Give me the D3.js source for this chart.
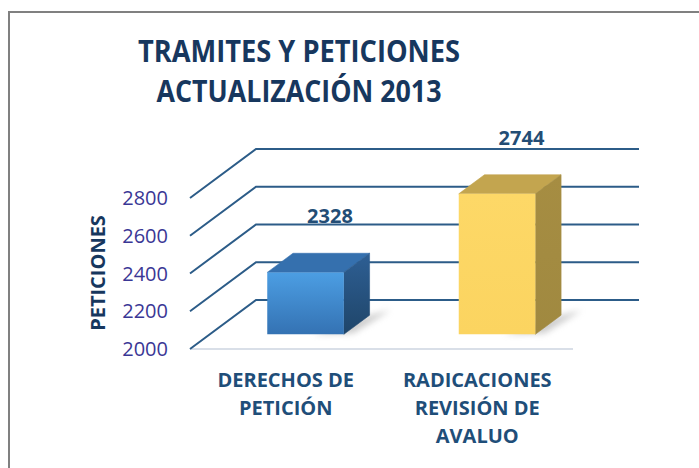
<!DOCTYPE html>
<html>
<head>
<meta charset="utf-8">
<script src="https://cdn.jsdelivr.net/npm/d3@7"></script>
<style>
  body { margin: 0; background: #fff; }
  text { font-family: "Open Sans", sans-serif; }
</style>
</head>
<body>
<div id="chart"></div>
<script>
/* 3D column chart: tramites y peticiones 2013 */

const categories = [["DERECHOS DE", "PETICIÓN"], ["RADICACIONES", "REVISIÓN DE", "AVALUO"]];
const values = [2328, 2744];
const ticks = [2000, 2200, 2400, 2600, 2800];

const width = 699, height = 468;
const depthX = 66, depthY = 49; /* how far the back wall sits from the front plane */

const svg = d3.select("#chart")
    .append("svg")
    .attr("width", width)
    .attr("height", height);

const x = d3.scaleBand()
    .domain(d3.range(values.length))
    .range([190, 573]);

const y = d3.scaleLinear()
    .domain([2000, 2800])
    .range([349, 198]);

/* point in the 3d box: front-plane x, value, depth 0..1 */
const P = (xf, v, d) => [xf + d * depthX, y(v) - d * depthY];

// frame
svg.append("path")
    .attr("d", `M9,${height + 5} V12 H${width + 5}`)
    .attr("fill", "none")
    .attr("stroke", "#808080")
    .attr("stroke-width", 2);

// title
const title = ["TRAMITES Y PETICIONES", "ACTUALIZACIÓN 2013"];
const titleW = [322, 285];
svg.selectAll(".title")
    .data(title)
    .join("text")
    .attr("x", 299)
    .attr("y", (d, i) => 62 + i * 40)
    .attr("text-anchor", "middle")
    .attr("textLength", (d, i) => titleW[i])
    .attr("lengthAdjust", "spacingAndGlyphs")
    .style("font-size", "30px")
    .style("font-weight", "bold")
    .style("fill", "#17375E")
    .text(d => d);

const defs = svg.append("defs");
defs.append("filter").attr("id", "blur")
    .attr("x", "-50%").attr("y", "-50%").attr("width", "200%").attr("height", "200%")
    .append("feGaussianBlur").attr("stdDeviation", 3);

const grad = (id, c1, c2) => {
    const g = defs.append("linearGradient").attr("id", id)
        .attr("x1", 0).attr("y1", 0).attr("x2", 0).attr("y2", 1);
    g.append("stop").attr("offset", 0).attr("stop-color", c1);
    g.append("stop").attr("offset", 1).attr("stop-color", c2);
};
grad("blueFront", "#4C9EE3", "#3472B3");
grad("blueSide", "#2E5F94", "#1F4569");
grad("yelFront", "#FDD867", "#FBD460");
grad("yelSide", "#A68D42", "#A08940");

// floor front edge
svg.append("line")
    .attr("x1", x.range()[0]).attr("x2", x.range()[1])
    .attr("y1", y(2000)).attr("y2", y(2000))
    .attr("stroke", "#D9DFE8")
    .attr("stroke-width", 2);

// side wall and back wall grid lines
const gridColor = "#2C5C88";
const grid = svg.append("g")
    .attr("fill", "none")
    .attr("stroke", gridColor)
    .attr("stroke-width", 2);

grid.selectAll("path")
    .data(ticks)
    .join("path")
    .attr("d", t => {
        const a = P(x.range()[0], t, 0);
        const b = P(x.range()[0], t, 1);
        const c = P(x.range()[1], t, 1);
        return `M${a}L${b}L${c}`;
    });

// y tick labels
svg.selectAll(".tick")
    .data(ticks)
    .join("text")
    .attr("x", 168)
    .attr("y", t => y(t) + 7)
    .attr("text-anchor", "end")
    .style("font-size", "20px")
    .style("fill", "#3A3795")
    .text(t => t);

// y axis title
svg.append("text")
    .attr("transform", "translate(105,273) rotate(-90)")
    .attr("text-anchor", "middle")
    .style("font-size", "20px")
    .style("font-weight", "bold")
    .style("fill", "#17375E")
    .text("PETICIONES");

// bars
const fills = [
    { front: "url(#blueFront)", top: "#3570AE", side: "url(#blueSide)" },
    { front: "url(#yelFront)", top: "#C3A54F", side: "url(#yelSide)" }
];
const d0 = 0.3, d1 = 0.69;

const bar = svg.selectAll(".bar")
    .data(values)
    .join("g")
    .attr("class", "bar");

const barX = i => x(i) + x.bandwidth() * 0.3;
const barW = x.bandwidth() * 0.4;

const poly = pts => "M" + pts.map(p => p.join(",")).join("L") + "Z";

// soft shadow on the floor
bar.append("path")
    .attr("d", (v, i) => poly([
        P(barX(i) + barW * 0.6, 2000, d0),
        P(barX(i) + barW + 8, 2000, d0 + 0.02),
        P(barX(i) + barW + 14, 2000, d1 + 0.1),
        P(barX(i) + barW, 2000, d1)
    ]))
    .attr("fill", "#9A9A9A")
    .attr("opacity", 0.5)
    .attr("filter", "url(#blur)");

bar.append("path")
    .attr("d", (v, i) => poly([
        P(barX(i), v, d0), P(barX(i) + barW, v, d0),
        P(barX(i) + barW, v, d1), P(barX(i), v, d1)
    ]))
    .attr("fill", (v, i) => fills[i].top)
    .attr("stroke", (v, i) => fills[i].top)
    .attr("stroke-width", 0.6);

bar.append("path")
    .attr("d", (v, i) => poly([
        P(barX(i) + barW, v, d0), P(barX(i) + barW, v, d1),
        P(barX(i) + barW, 2000, d1), P(barX(i) + barW, 2000, d0)
    ]))
    .attr("fill", (v, i) => fills[i].side)
    .attr("stroke", (v, i) => fills[i].side)
    .attr("stroke-width", 0.6);

bar.append("path")
    .attr("d", (v, i) => poly([
        P(barX(i), v, d0), P(barX(i) + barW, v, d0),
        P(barX(i) + barW, 2000, d0), P(barX(i), 2000, d0)
    ]))
    .attr("fill", (v, i) => fills[i].front);

// value labels
bar.append("text")
    .attr("x", (v, i) => P(x(i) + x.bandwidth() / 2, v, 0.67)[0])
    .attr("y", (v, i) => P(x(i) + x.bandwidth() / 2, v, d1)[1] - 30)
    .attr("text-anchor", "middle")
    .style("font-size", "20px")
    .style("font-weight", "bold")
    .style("fill", "#234D75")
    .text(v => v);

// category labels
svg.selectAll(".cat")
    .data(categories)
    .join("text")
    .attr("text-anchor", "middle")
    .style("font-size", "20px")
    .style("font-weight", "bold")
    .style("fill", "#1F4E79")
    .selectAll("tspan")
    .data((lines, i) => lines.map(l => ({ l, i })))
    .join("tspan")
    .attr("x", d => x(d.i) + x.bandwidth() / 2)
    .attr("y", (d, j) => 387 + j * 28)
    .text(d => d.l);
</script>
</body>
</html>
